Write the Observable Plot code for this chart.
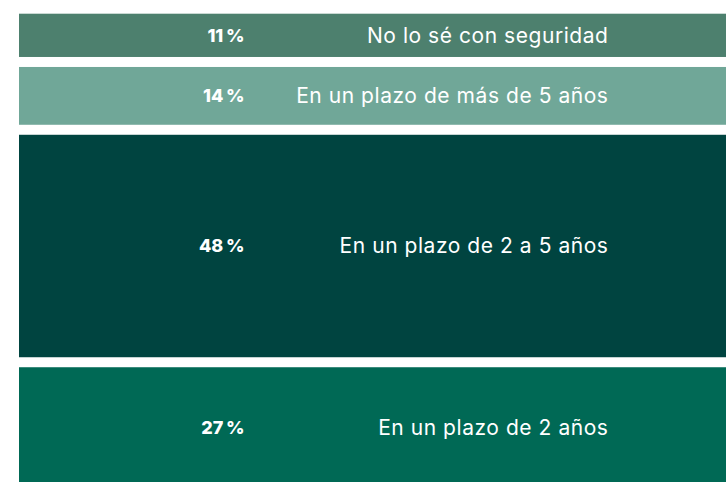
<!DOCTYPE html>
<html>
<head>
<meta charset="utf-8">
<script src="https://cdn.jsdelivr.net/npm/d3@7"></script>
<script src="https://cdn.jsdelivr.net/npm/@observablehq/plot@0.6"></script>
<style>
  html, body { margin: 0; padding: 0; background: #ffffff; overflow: hidden; }
</style>
</head>
<body>
<div id="chart"></div>
<script>
const labels = ["No lo sé con seguridad", "En un plazo de más de 5 años", "En un plazo de 2 a 5 años", "En un plazo de 2 años"];
const values = [11, 14, 48, 27];
const colors = ["#4d806e", "#70a798", "#004440", "#006955"];

const data = labels.map((label, i) => ({label, pct: values[i], color: colors[i]}));

const font = "Inter, 'Open Sans', sans-serif";

const chart = Plot.plot({
  width: 726,
  height: 482,
  marginLeft: 19,
  marginRight: 0,
  marginTop: 0,
  marginBottom: 0,
  style: {background: "#ffffff", fontFamily: font},
  x: {domain: [0, 1], axis: null},
  y: {domain: [0, 100], range: [8.7, 493], axis: null},
  marks: [
    Plot.rectY(data, {x1: 0, x2: 1, y: "pct", fill: "color", insetTop: 5, insetBottom: 5}),
    Plot.text(data, Plot.stackY({
      y: "pct",
      text: d => `${d.pct}\u2009%`,
      frameAnchor: "left",
      dx: 225,
      textAnchor: "end",
      fill: "#ffffff",
      fontSize: 18,
      fontWeight: 800
    })),
    Plot.text(data, Plot.stackY({
      y: "pct",
      text: "label",
      frameAnchor: "left",
      dx: 589,
      textAnchor: "end",
      fill: "#ffffff",
      fontSize: 21,
      fontWeight: 400
    }))
  ]
});
d3.select(chart).selectAll("g[aria-label='text']")
  .filter((d, i) => i === 1)
  .selectAll("text")
  .attr("letter-spacing", "0.55px");
document.getElementById("chart").appendChild(chart);
</script>
</body>
</html>
